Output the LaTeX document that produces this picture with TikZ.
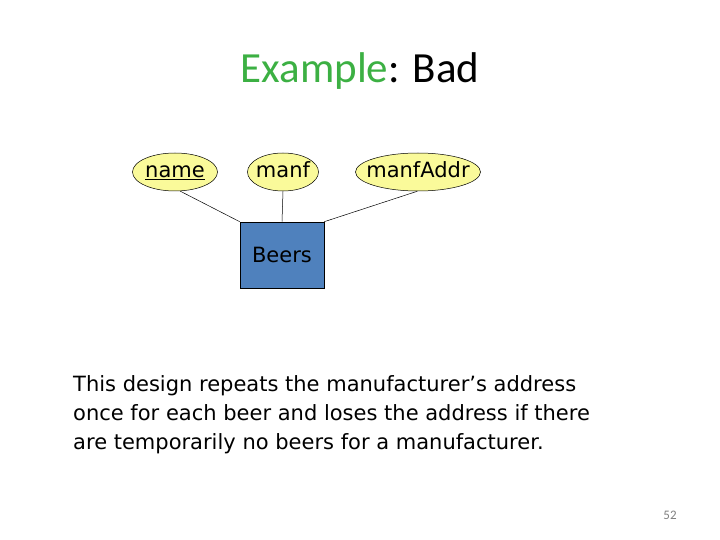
\documentclass[tikz,border=0pt]{standalone}
\usepackage{fontspec}
\setmainfont{DejaVu Sans}
\newfontfamily\titlefont{Carlito}
\usetikzlibrary{shapes.geometric}
\definecolor{titlegreen}{HTML}{3CB043}
\definecolor{attrfill}{HTML}{FAFA9A}
\definecolor{entfill}{HTML}{4F81BD}
\tikzset{
  attr/.style={ellipse, draw=black, line width=0.5pt, fill=attrfill, inner sep=0pt, minimum height=38pt},
  attrtext/.style={font=\fontsize{21}{24}\selectfont, inner sep=0pt, text height=15pt, text depth=4pt},
  entity/.style={rectangle, draw=black, line width=0.6pt, fill=entfill, minimum width=84pt, minimum height=66pt, inner sep=0pt, font=\fontsize{21}{24}\selectfont},
  link/.style={draw=black, line width=0.5pt}
}
\begin{document}
\begin{tikzpicture}[x=1pt,y=-1pt]
\useasboundingbox (0,0) rectangle (720,540);
\node[font=\titlefont\fontsize{43}{48}\selectfont, anchor=base] (title) at (360,83) {\textcolor{titlegreen}{Example}: Bad};
\node[attr, minimum width=85pt, label={[attrtext]center:\underline{name}}] (name) at (175,172) {};
\node[attr, minimum width=71pt, label={[attrtext]center:manf}] (manf) at (283,172) {};
\node[attr, minimum width=125pt, label={[attrtext]center:manfAddr}] (addr) at (418,172) {};
\node[entity] (beers) at (282,255) {Beers};
\draw[link] (name.-75) -- (beers.north west);
\draw[link] (manf.south) -- (beers.north);
\draw[link] (addr.-92) -- (beers.north east);
\node[anchor=north west, align=left, inner sep=0pt, font=\fontsize{21}{29}\selectfont] (body) at (73,375) {This design repeats the manufacturer’s address\\once for each beer and loses the address if there\\are temporarily no beers for a manufacturer.};
\node[font=\titlefont\fontsize{13}{15}\selectfont, text=gray] (num) at (670,515) {52};
\end{tikzpicture}
\end{document}
